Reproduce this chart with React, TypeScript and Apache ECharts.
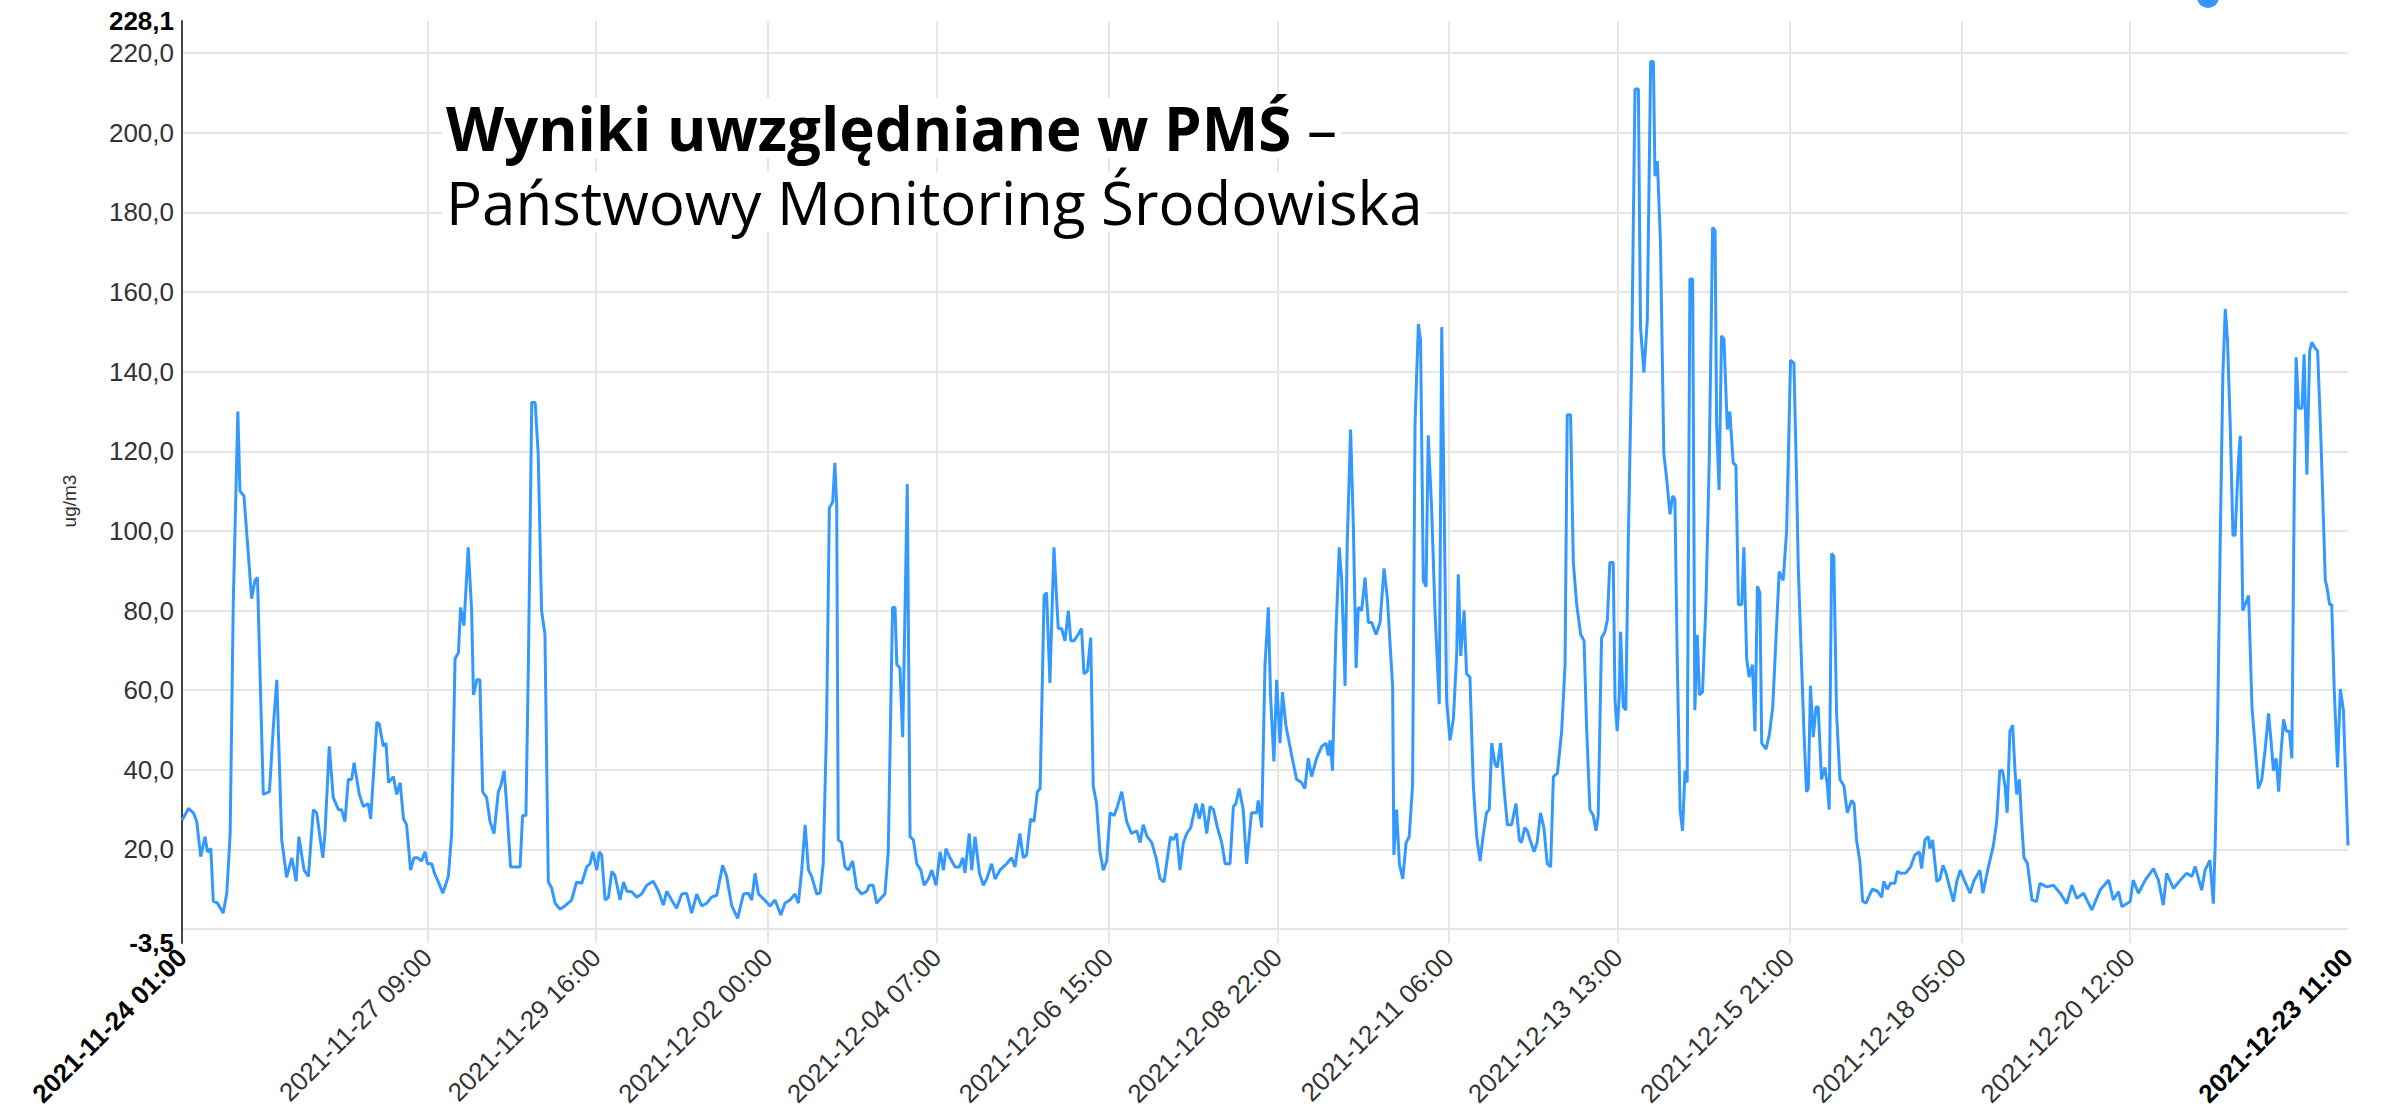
import React, { useEffect, useRef } from 'react';
import * as echarts from 'echarts';

// ---------- axis definition ----------
const START_UTC = Date.UTC(2021, 10, 24, 1); // 2021-11-24 01:00
const TOTAL_HOURS = 706; // until 2021-12-23 11:00
const Y_MIN = -3.5;
const Y_MAX = 228.1;

const tickLabels = [
  '2021-11-24 01:00',
  '2021-11-27 09:00',
  '2021-11-29 16:00',
  '2021-12-02 00:00',
  '2021-12-04 07:00',
  '2021-12-06 15:00',
  '2021-12-08 22:00',
  '2021-12-11 06:00',
  '2021-12-13 13:00',
  '2021-12-15 21:00',
  '2021-12-18 05:00',
  '2021-12-20 12:00',
  '2021-12-23 11:00',
];

const seriesName = 'PM10';
const yAxisName = 'ug/m3';
const titleBold = 'Wyniki uwzględniane w PMŚ';
const titleDash = '–';
const titleLine2 = 'Państwowy Monitoring Środowiska';

// ---------- readings: [hours since 2021-11-24 01:00, ug/m3] ----------
const periodA: [number, number][] = [
  [0, 27.3], [2.1, 30.3], [3.7, 29.2], [4.8, 27], [6.1, 18.2], [7.5, 23.2], [8.3, 19.4], [9.4, 20.2],
  [10.2, 7], [11.6, 6.5], [13.4, 4], [14.6, 9], [15.7, 24], [16.7, 81.5], [18.2, 130], [18.9, 110],
  [20.2, 108.8], [22.7, 83], [23.8, 87.6], [24.6, 88.3], [26.5, 33.8], [28.5, 34.5], [29.8, 51.2], [30.9, 62.6],
  [32.5, 22.4], [34.1, 13], [35.8, 17.9], [37.2, 12], [38.1, 23.2], [39.8, 14.8], [41.2, 13.2], [42.8, 30],
  [43.9, 29.2], [45.9, 17.9], [46.6, 24], [48, 45.9], [49.3, 33], [51, 30], [52, 30], [53.1, 27],
  [54.2, 37.6], [55.3, 37.6], [56.1, 41.8], [57.8, 33.8], [59.1, 30.8], [60.7, 31.5], [61.5, 27.7], [63.5, 52],
  [64.3, 51.5], [65.6, 45.9], [66.5, 46.7], [67.3, 36.8], [68.9, 38.3], [70, 33.8], [71.1, 36.8], [72.2, 27.7],
  [73.2, 26.2], [74.5, 14.8], [75.6, 17.9], [76.7, 17.9], [78.1, 17.1], [79.2, 19.4], [80, 16.4], [81.4, 16.4],
  [82.3, 14], [83.6, 11.8],
];

const periodB: [number, number][] = [
  [85, 9], [86.8, 13.2], [87.9, 24], [89, 67.9], [90.1, 69.4], [90.8, 80.8], [91.9, 76.2], [93.3, 95.9],
  [94.4, 80], [95, 58.8], [96.1, 62.6], [97.1, 62.6], [98, 34.5], [99.3, 33], [100.4, 27], [101.7, 24],
  [103.1, 34.5], [103.9, 36], [105, 39.8], [105.8, 31.5], [107.1, 15.6], [108.5, 15.6], [110.2, 15.6], [111, 28.5],
  [112.1, 28.5], [112.9, 66.4], [114, 132.3], [115.1, 132.3], [116.1, 119.4], [117.2, 80], [118.3, 74], [119.4, 11.8],
  [120.5, 10.3], [121.6, 6.5], [123.2, 5], [124.8, 5.8], [127, 7.3], [128.6, 11.8], [130.3, 11.5], [131.9, 15.6],
  [133, 16.4], [133.9, 19.4], [135.2, 14.8], [136, 19.4], [136.8, 18.6], [137.9, 7.3], [139, 8], [140.1, 14.5],
  [141.1, 13.5], [142.8, 7.3], [143.9, 11.8], [145, 9.5], [146.6, 9.4], [148.2, 8], [149.8, 8.8], [151.5, 11],
  [153.6, 12], [155.3, 9.5], [156.9, 6], [158, 9.5], [159.6, 7.3], [161.2, 5.2], [162.9, 8.8], [164.5, 9],
  [166.1, 4], [167.8, 8.8], [169.4, 5.8], [171, 6.5],
];

const periodC: [number, number][] = [
  [172.6, 8], [174.3, 8.5], [176.2, 16], [177.5, 13.3], [179.2, 5.8], [181.1, 2.7], [183, 8.8], [184.6, 9],
  [185.7, 7.3], [186.8, 14], [187.9, 8.8], [189.5, 7.6], [191.7, 5.8], [193.3, 7.3], [195.2, 3.5], [196.5, 6.5],
  [198.2, 7.3], [199.8, 8.8], [200.9, 6.5], [202, 14.8], [203.1, 26.2], [204.2, 14.8], [205.2, 13.3], [206.9, 8.8],
  [208, 9.1], [209, 16.4], [210.1, 51.2], [211, 105.8], [212.1, 107.3], [212.8, 117.1], [213.4, 106.5], [213.9, 22.4],
  [215, 21.7], [216.1, 15.6], [217.2, 14.8], [218.6, 17.1], [219.9, 10.3], [221.5, 8.8], [223.2, 9.5], [224, 11],
  [225.3, 11], [226.4, 6.5], [228.1, 8], [229.1, 8.8], [230.2, 19.4], [231.6, 80.8], [232.4, 80.8], [233, 66.4],
  [234, 65.6], [234.9, 48.2], [235.7, 81.5], [236.4, 111.8], [237.3, 23.2], [238.4, 22.4], [239.5, 16.4], [240.8, 14.8],
  [241.9, 11], [243.3, 12.6], [244.4, 14.8], [245.8, 11], [247.1, 19.4], [248.2, 14.8], [249, 20.2], [250.3, 17.9],
  [252, 15.6], [253.4, 15.6], [254.5, 17.9], [255.2, 14.1], [256.6, 24], [257.4, 14.8], [258.5, 23.2], [259.9, 14.1],
];

const periodD: [number, number][] = [
  [261.2, 11], [262.3, 12.6], [263.9, 16.4], [265, 12.6], [266.6, 14.8], [268.8, 16.4], [270.4, 17.9], [271.5, 15.6],
  [273.1, 24], [274.2, 17.9], [275.3, 18.6], [276.6, 27.7], [277.7, 27], [278.8, 34.5], [279.7, 35.3], [281, 83.8],
  [281.8, 84.5], [282.9, 61.8], [284.2, 95.9], [285.6, 75.5], [286.7, 75.5], [287.8, 72.4], [288.9, 80], [289.7, 72.4],
  [290.7, 72.4], [292.1, 74], [293.2, 75.5], [294, 64.1], [295.1, 64.8], [296.2, 73.2], [297, 36], [298.1, 31.5],
  [299.2, 19.4], [300.3, 14.8], [301.4, 17.1], [302.5, 29.2], [303.8, 28.5], [304.9, 30.8], [306.3, 34.5], [307.9, 27],
  [309.5, 24], [311.2, 24.7], [312.3, 21.7], [313.3, 26.2], [314.6, 23.2], [316.1, 21.7], [317.5, 17.9], [318.8, 12.6],
  [320.1, 11.8], [321.2, 17.9], [322.2, 23.2], [323.1, 22.4], [324.2, 24], [325.3, 14.8], [326.4, 21.7], [327.5, 24],
  [328.8, 25.5], [330.5, 31.5], [331.6, 27.7], [332.7, 31.5], [334, 24], [335.1, 30.8], [336.2, 30], [337.5, 25.5],
  [338.9, 21.7], [340, 16.4], [341.6, 16.4], [342.7, 30.8], [343.5, 31.5], [344.6, 35.3], [345.9, 30], [347, 16.4],
];

const periodE: [number, number][] = [
  [348.6, 29.2], [350.3, 29.2], [350.8, 32.3], [351.9, 25.5], [353, 66.4], [354.1, 80.8], [354.8, 58.8], [355.9, 42.1],
  [356.8, 62.6], [357.9, 46.7], [358.7, 59.5], [359.8, 51.2], [361.7, 43.6], [363.3, 37.6], [364.9, 36.8], [366, 35.3],
  [367.1, 42.9], [368.2, 38.3], [369.8, 42.9], [371.5, 45.9], [372.9, 46.7], [373.6, 43.6], [374.2, 47.4], [375, 39.8],
  [376.1, 74], [377.2, 95.9], [378, 87.6], [379.1, 61.1], [379.8, 96.7], [380.9, 125.5], [381.8, 101.2], [382.7, 65.6],
  [383.4, 80.8], [384.5, 80], [385.6, 88.3], [386.7, 77], [387.8, 77], [389.2, 74], [390.5, 77], [391.8, 90.6],
  [392.9, 83], [393.7, 72.4], [394.6, 61.1], [395, 18.6], [395.9, 30], [396.8, 16.4], [397.9, 12.6], [399, 21.7],
  [400, 23.2], [401.1, 36], [401.9, 127], [403, 152], [403.7, 148], [404.6, 87.6], [405.5, 86], [406.2, 124],
  [407.3, 105.8], [408.4, 80], [409.8, 56.5], [410.6, 151.2], [411.3, 111.8], [412.2, 57.3], [413.3, 47.4], [414.4, 52.7],
  [415.5, 69.4], [416, 89.1], [416.8, 68.6], [417.9, 80], [418.7, 64.1], [419.8, 63.3], [420.9, 36], [422, 23.2],
  [423.1, 17.1], [424.2, 24], [425.2, 29.2], [426.1, 30], [426.9, 46.7], [428, 41.4], [428.7, 40.6], [429.8, 46.7],
  [430.9, 35.3], [432, 26.2], [433.4, 26.2], [434.8, 31.5], [435.9, 22.4],
];

const periodF: [number, number][] = [
  [436.6, 21.7], [437.7, 25.5], [438.5, 24.7], [439.4, 22.4], [440.7, 19.4], [441.7, 21.7], [442.8, 29.2], [443.9, 25.5],
  [445, 16.4], [446.1, 15.6], [447, 38.3], [448.3, 39.1], [449.7, 49.7], [450.8, 66.4], [451.5, 129.2], [452.6, 129.2],
  [453.5, 92.1], [454.6, 81.5], [455.9, 74], [457, 72.4], [457.8, 51.2], [458.9, 30], [460, 28.5], [460.9, 24.7],
  [461.6, 28.5], [462.7, 73.2], [463.8, 74.7], [464.6, 77.7], [465.4, 92.1], [466.5, 92.1], [467.1, 57.3], [467.8, 49.7],
  [468.5, 58.8], [468.9, 74.7], [469.8, 55.8], [470.6, 55], [471.4, 96.7], [472.5, 142.1], [473.6, 211], [474.7, 211],
  [475.4, 151.2], [476.5, 139.8], [477.6, 152.7], [478.7, 217.9], [479.6, 217.9], [480.1, 189.1], [480.9, 192.9], [481.9, 172.4],
  [483, 119.4], [483.9, 113.3], [485, 104.2], [485.9, 108.8], [486.6, 108], [487.4, 66.4], [488.3, 30], [489.1, 24.7],
  [489.9, 39.8], [490.6, 36.8], [491.5, 163.3], [492.4, 163.3], [493.1, 55], [493.9, 73.9], [494.6, 58.8], [495.6, 59.5],
  [496.7, 81.5], [497.8, 117.9], [498.9, 176.2], [499.7, 175.5], [500.2, 127], [501, 110.3], [501.8, 149], [502.6, 148.2],
  [503.7, 125.5], [504.5, 130], [505.6, 117.1], [506.5, 116.4], [507.3, 81.5], [508.4, 81.5], [509.1, 95.9], [510, 67.9],
  [510.8, 63.3], [511.9, 66.4], [512.7, 49.7], [513.5, 86.1], [514.3, 84.5], [514.9, 46.7], [516.3, 45.2], [517.4, 48.9],
  [518.5, 55.8], [519.8, 77], [520.6, 89.8], [521.9, 87.6], [523, 99.7], [524.3, 142.9], [525.4, 142.1], [526.3, 111.8],
];

const periodG: [number, number][] = [
  [526.8, 91.4], [527.9, 66.4], [528.7, 48.9], [529.5, 34.5], [530.1, 35.3], [530.8, 61.1], [531.7, 48.2], [532.6, 55.8],
  [533.3, 55.8], [534.4, 37.6], [535.5, 40.6], [536.3, 36], [536.9, 30], [537.7, 94.4], [538.4, 93.6], [539.3, 54.2],
  [540.4, 37.6], [541.7, 36], [542.8, 29.2], [544.2, 32.3], [545, 31.5], [545.8, 22.4], [546.9, 17], [547.8, 7],
  [548.9, 6.5], [550, 8.5], [551, 10], [552.6, 9.5], [554, 8], [554.7, 12], [555.8, 10], [556.9, 11.5],
  [558.3, 11.5], [559.1, 14.5], [560.2, 14], [561.9, 14.1], [563.4, 15.6], [564.8, 18.6], [566.3, 19.4], [567, 15.2],
  [568.1, 22.4], [569.2, 23.2], [569.7, 20.2], [570.6, 22.4], [572, 11.9], [573, 12.6], [574, 16], [575, 14],
  [576, 11], [577.4, 6.9], [578.5, 12], [579.6, 14.8], [581.1, 12], [582.8, 9], [584, 12], [586, 14.8],
  [587, 9], [588.8, 15.7], [590.4, 20.9], [591.5, 27], [592.5, 39.8], [593.4, 39.8], [594.2, 36], [594.9, 29.2],
  [595.8, 49.7], [596.7, 51.2], [597.4, 40.6], [598, 33.8], [598.9, 37.6], [599.6, 27], [600.4, 17.9], [601.5, 16.5],
  [603, 7.3], [604.5, 6.9], [605.6, 11.5], [607.8, 10.6], [610, 11], [612.2, 9],
];

const periodH: [number, number][] = [
  [614.3, 6.4], [616, 11], [617.6, 7.7], [619.8, 9], [622.5, 4.8], [625.2, 9.8], [628, 12.3], [629.5, 7.3],
  [631.2, 9.4], [632.3, 5.6], [635, 6.9], [636, 12.3], [637.7, 9], [639.9, 12.3], [642.6, 15.2], [644.2, 12.3],
  [645.8, 6], [646.9, 14], [649.1, 10.2], [651.8, 12.7], [653.4, 14], [655.1, 13.2], [656.2, 15.7], [658.3, 9.8],
  [659.4, 14.8], [661, 17.3], [662.1, 6.4], [662.7, 20.9],
  [663.5, 51.2], [664.4, 99.7], [665.2, 139], [666, 155.8], [666.7, 148.2], [667.6, 127], [668.5, 98.9], [669.2, 98.9],
  [670.3, 117.9], [670.9, 123.9], [671.7, 80], [672.5, 81.5], [673.6, 83.8], [674.7, 55.8], [675.8, 45.2], [676.8, 35.3],
  [677.9, 37.6], [679, 45.2], [680.1, 54.2], [680.9, 47.4], [681.7, 39.8], [682.6, 42.9], [683.4, 34.5], [684.1, 43.6],
  [685, 52.7], [685.9, 49.7], [686.9, 49.7], [687.7, 42.9], [688.5, 111.8], [689.1, 143.6], [689.9, 130.8], [691, 130.8],
  [691.7, 144.4], [692.6, 114.1], [693.5, 145.2], [694.2, 147.4], [695.3, 145.9], [696.1, 145.2], [697.2, 122.4], [698.6, 87.6],
  [699.1, 86.1], [700, 81.5], [700.7, 81.5], [701.5, 60.3], [702.6, 40.6], [703.5, 60.3], [704.5, 55], [706, 21],
];

const readings = [...periodA, ...periodB, ...periodC, ...periodD, ...periodE, ...periodF, ...periodG, ...periodH];

// ---------- helpers ----------
const pad = (n: number) => String(n).padStart(2, '0');
const fmtHour = (ms: number) => {
  const d = new Date(ms);
  return `${d.getUTCFullYear()}-${pad(d.getUTCMonth() + 1)}-${pad(d.getUTCDate())} ${pad(d.getUTCHours())}:00`;
};
const hourCategories = Array.from({ length: TOTAL_HOURS + 1 }, (_, i) => fmtHour(START_UTC + i * 3600000));
const firstTick = tickLabels[0];
const lastTick = tickLabels[tickLabels.length - 1];
const fmtNum = (v: number) => v.toFixed(1).replace('.', ',');

const AXIS_FONT = '"Liberation Sans", Arial, Helvetica, sans-serif';
const TITLE_FONT = '"Open Sans", "Noto Sans", sans-serif';

export default function App() {
  const ref = useRef<HTMLDivElement>(null);

  useEffect(() => {
    if (!ref.current) return;
    const chart = echarts.init(ref.current, null, { renderer: 'svg' });
    chart.setOption({
      animation: false,
      backgroundColor: '#ffffff',
      legend: {
        show: true,
        data: [seriesName],
        top: -14,
        left: 2197,
        padding: 0,
        icon: 'circle',
        itemWidth: 22,
        itemHeight: 22,
        formatter: () => '',
        selectedMode: false,
      },
      grid: {
        left: 182,
        right: 44,
        top: 21,
        bottom: 168,
        containLabel: false,
        outerBoundsMode: 'none',
      },
      xAxis: [
        {
          type: 'category',
          data: hourCategories,
          boundaryGap: false,
          axisLine: { show: false },
          axisTick: { show: false },
          axisLabel: {
            interval: (_i: number, v: string) => tickLabels.includes(v),
            rotate: 45,
            margin: 10,
            fontSize: 26,
            fontFamily: AXIS_FONT,
            color: '#333333',
            formatter: (v: string) => (v === firstTick || v === lastTick ? `{b|${v}}` : v),
            rich: {
              b: { fontWeight: 'bold', fontSize: 26, fontFamily: AXIS_FONT, color: '#000000' },
            },
          },
          splitLine: {
            show: true,
            interval: (_i: number, v: string) => tickLabels.includes(v) && v !== firstTick && v !== lastTick,
            lineStyle: { color: '#e6e6e6', width: 2 },
          },
        },
        {
          type: 'value',
          min: 0,
          max: TOTAL_HOURS,
          show: false,
        },
      ],
      yAxis: {
        type: 'value',
        min: Y_MIN,
        max: Y_MAX,
        splitNumber: 12,
        axisLine: { show: true, lineStyle: { color: '#444444', width: 2 } },
        axisTick: { show: false },
        splitLine: {
          show: true,
          showMinLine: false,
          showMaxLine: false,
          lineStyle: { color: '#e6e6e6', width: 2 },
        },
        axisLabel: {
          showMinLabel: true,
          showMaxLabel: true,
          margin: 8,
          fontSize: 26,
          fontFamily: AXIS_FONT,
          color: '#333333',
          formatter: (v: number) => {
            if (Math.abs(v) < 1e-9) return '';
            if (Math.abs(v - Y_MIN) < 1e-9 || Math.abs(v - Y_MAX) < 1e-9) return `{b|${fmtNum(v)}}`;
            return fmtNum(v);
          },
          rich: {
            b: { fontWeight: 'bold', fontSize: 26, fontFamily: AXIS_FONT, color: '#000000' },
          },
        },
      },
      graphic: [
        {
          type: 'text',
          x: 69,
          y: 501,
          rotation: Math.PI / 2,
          style: {
            text: yAxisName,
            fontSize: 19,
            fontFamily: AXIS_FONT,
            fill: '#333333',
            align: 'center',
            verticalAlign: 'middle',
          },
        },
        {
          type: 'text',
          x: 442,
          y: 128,
          z: 10,
          style: {
            text: `{b|${titleBold}}{r| ${titleDash}}`,
            verticalAlign: 'middle',
            align: 'left',
            backgroundColor: '#ffffff',
            padding: [0, 4, 0, 4],
            rich: {
              b: { fontSize: 60, lineHeight: 60, fontWeight: 'bold', fontFamily: TITLE_FONT, fill: '#000000' },
              r: { fontSize: 60, lineHeight: 60, fontWeight: 'normal', fontFamily: TITLE_FONT, fill: '#000000' },
            },
          },
        },
        {
          type: 'text',
          x: 442,
          y: 202,
          z: 10,
          style: {
            text: titleLine2,
            fontSize: 60,
            lineHeight: 60,
            fontFamily: TITLE_FONT,
            fill: '#000000',
            align: 'left',
            verticalAlign: 'middle',
            backgroundColor: '#ffffff',
            padding: [0, 4, 0, 4],
          },
        },
      ],
      series: [
        {
          name: seriesName,
          type: 'line',
          xAxisIndex: 1,
          yAxisIndex: 0,
          data: readings,
          showSymbol: false,
          symbol: 'circle',
          itemStyle: { color: '#3399ff' },
          lineStyle: { color: '#3399ff', width: 3 },
        },
      ],
    });
    return () => chart.dispose();
  }, []);

  return (
    <div
      ref={ref}
      style={{ position: 'fixed', left: 0, top: 0, width: 2392, height: 1111, background: '#fff' }}
    />
  );
}
